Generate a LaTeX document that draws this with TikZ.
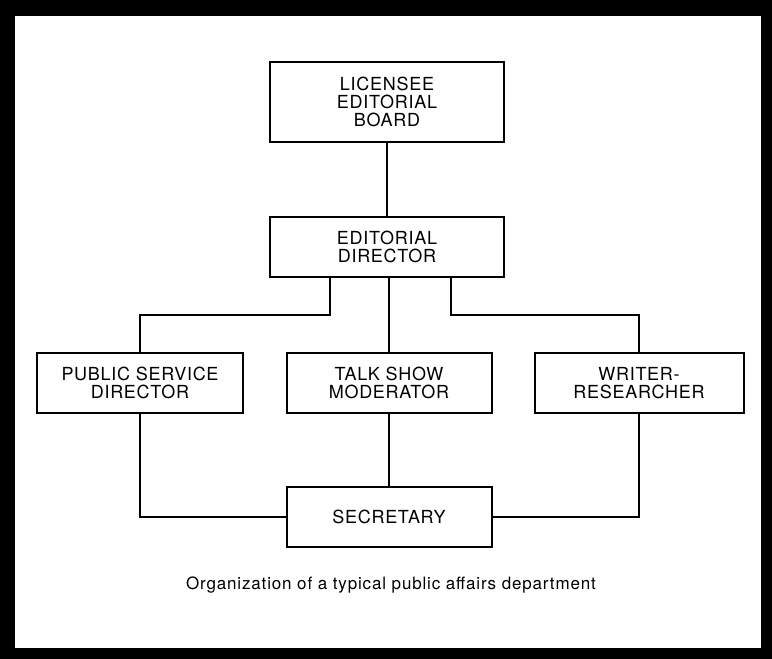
\documentclass[tikz,border=0pt]{standalone}
\usepackage{fontspec}
\setmainfont{TeX Gyre Heros}
\newfontfamily\boxfont[LetterSpace=4]{TeX Gyre Heros}
\newfontfamily\capfont[LetterSpace=5]{TeX Gyre Heros}
\usetikzlibrary{positioning}
\tikzset{post/.style={draw,line width=2pt,minimum height=60pt,inner sep=0pt,align=center,font=\boxfont\fontsize{18}{18}\selectfont},
         link/.style={line width=2pt}}

\begin{document}
\begin{tikzpicture}[x=1pt,y=-1pt]
                    % frame
                    \fill[black] (0,0) rectangle (772,659);
                    \fill[white] (15,16) rectangle (761,648);

                    \node[post,minimum width=234pt,minimum height=80pt] (board) at (387,102) {LICENSEE\\EDITORIAL\\BOARD};
                    \node[post,minimum width=234pt] (dir) at (387,247) {EDITORIAL\\DIRECTOR};
                    \node[post,minimum width=206pt] (psd) at (140,383) {PUBLIC SERVICE\\DIRECTOR};
                    \node[post,minimum width=205pt] (tsm) at (389,383) {TALK SHOW\\MODERATOR};
                    \node[post,minimum width=209pt] (wr) at (639,383) {WRITER-\\RESEARCHER};
                    \node[post,minimum width=205pt] (sec) at (389,517) {SECRETARY};

                    \coordinate (dl) at (330,277);
                    \coordinate (dr) at (451,277);

                    \draw[link] (board) -- (board |- dir.north);
                    \draw[link] (dl) |- (140,315) -- (psd.north);
                    \draw[link] (tsm |- dir.south) -- (tsm.north);
                    \draw[link] (dr) |- (639,315) -- (wr.north);
                    \draw[link] (psd.south) |- (sec.west);
                    \draw[link] (tsm) -- (sec);
                    \draw[link] (wr.south) |- (sec.east);

                    \node[font=\capfont\fontsize{17}{19}\selectfont] (cap) at (391,585) {Organization of a typical public affairs department};
                \end{tikzpicture}
\end{document}
